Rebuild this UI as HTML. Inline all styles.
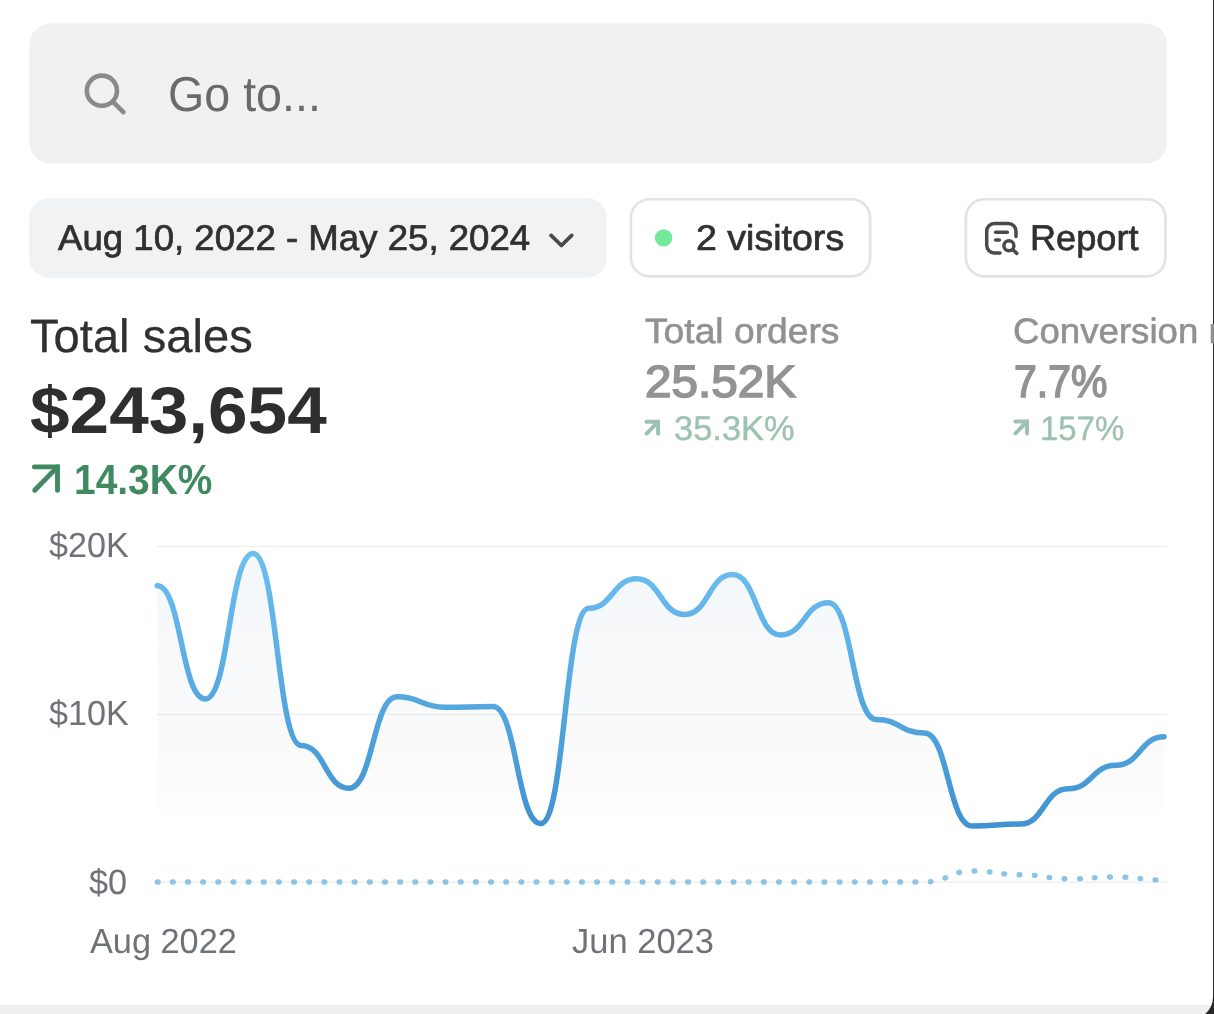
<!DOCTYPE html>
<html lang="en">
<head>
<meta charset="utf-8">
<title>Analytics</title>
<style>
*{box-sizing:border-box;margin:0;padding:0}
html,body{width:1214px;height:1014px;overflow:hidden;background:#fff}
body{position:relative;font-family:"Liberation Sans",sans-serif;-webkit-font-smoothing:antialiased}
.abs{position:absolute}
.t{position:absolute;white-space:nowrap;line-height:1;transform-origin:0 50%;text-rendering:geometricPrecision}
#bottomstrip{left:0;top:1004.6px;width:1214px;height:10px;background:#efefef}
svg{position:absolute;left:0;top:0;overflow:visible}
</style>
</head>
<body>
<div class="abs" id="bottomstrip"></div>

<svg id="chart" width="1214" height="1014" viewBox="0 0 1214 1014">
  <defs>
    <linearGradient id="lg" gradientUnits="userSpaceOnUse" x1="0" y1="546" x2="0" y2="882">
      <stop offset="0" stop-color="#6ec0f1"/>
      <stop offset="1" stop-color="#388aca"/>
    </linearGradient>
    <linearGradient id="ag" gradientUnits="userSpaceOnUse" x1="0" y1="546" x2="0" y2="882">
      <stop offset="0" stop-color="#75a7cd" stop-opacity="0.085"/>
      <stop offset="0.5" stop-color="#879baf" stop-opacity="0.05"/>
      <stop offset="0.64" stop-color="#7a7a7a" stop-opacity="0.032"/>
      <stop offset="0.76" stop-color="#666" stop-opacity="0.016"/>
      <stop offset="0.81" stop-color="#666" stop-opacity="0"/>
    </linearGradient>
  </defs>
  <!-- grid -->
  <g stroke="#ececed" stroke-width="1.1">
    <line x1="157" y1="546.5" x2="1167" y2="546.5"/>
    <line x1="157" y1="714.5" x2="1167" y2="714.5"/>
    <line x1="157" y1="882.1" x2="1167" y2="882.1"/>
  </g>
  <path d="M157.30,585.70 C181.27,585.70 181.27,698.90 205.24,698.90 C229.21,698.90 229.21,553.50 253.18,553.50 C277.15,553.50 277.15,745.50 301.11,745.50 C325.08,745.50 325.08,788.20 349.05,788.20 C373.02,788.20 373.02,696.80 396.99,696.80 C420.96,696.80 420.96,707.20 444.93,707.20 C468.90,707.20 468.90,706.60 492.87,706.60 C516.84,706.60 516.84,823.50 540.80,823.50 C564.77,823.50 564.77,608.30 588.74,608.30 C612.71,608.30 612.71,578.80 636.68,578.80 C660.65,578.80 660.65,614.50 684.62,614.50 C708.59,614.50 708.59,574.60 732.56,574.60 C756.53,574.60 756.53,634.90 780.50,634.90 C804.46,634.90 804.46,602.70 828.43,602.70 C852.40,602.70 852.40,719.50 876.37,719.50 C900.34,719.50 900.34,733.10 924.31,733.10 C948.28,733.10 948.28,826.00 972.25,826.00 C996.22,826.00 996.22,824.10 1020.19,824.10 C1044.15,824.10 1044.15,788.70 1068.12,788.70 C1092.09,788.70 1092.09,765.30 1116.06,765.30 C1140.03,765.30 1140.03,736.80 1164.00,736.80 L1164.00,882 L157.30,882 Z" fill="url(#ag)"/>
  <path d="M157.30,882.00 H924.31 C948.28,882.00 948.28,871.00 972.25,871.00 C996.22,871.00 996.22,874.70 1020.19,874.70 C1044.15,874.70 1044.15,878.80 1068.12,878.80 C1092.09,878.80 1092.09,877.00 1116.06,877.00 C1140.03,877.00 1140.03,880.00 1164.00,880.00" fill="none" stroke="#8cc4e6" stroke-width="5.4" stroke-linecap="round" stroke-dasharray="0.7 14.454"/>
  <path d="M157.30,585.70 C181.27,585.70 181.27,698.90 205.24,698.90 C229.21,698.90 229.21,553.50 253.18,553.50 C277.15,553.50 277.15,745.50 301.11,745.50 C325.08,745.50 325.08,788.20 349.05,788.20 C373.02,788.20 373.02,696.80 396.99,696.80 C420.96,696.80 420.96,707.20 444.93,707.20 C468.90,707.20 468.90,706.60 492.87,706.60 C516.84,706.60 516.84,823.50 540.80,823.50 C564.77,823.50 564.77,608.30 588.74,608.30 C612.71,608.30 612.71,578.80 636.68,578.80 C660.65,578.80 660.65,614.50 684.62,614.50 C708.59,614.50 708.59,574.60 732.56,574.60 C756.53,574.60 756.53,634.90 780.50,634.90 C804.46,634.90 804.46,602.70 828.43,602.70 C852.40,602.70 852.40,719.50 876.37,719.50 C900.34,719.50 900.34,733.10 924.31,733.10 C948.28,733.10 948.28,826.00 972.25,826.00 C996.22,826.00 996.22,824.10 1020.19,824.10 C1044.15,824.10 1044.15,788.70 1068.12,788.70 C1092.09,788.70 1092.09,765.30 1116.06,765.30 C1140.03,765.30 1140.03,736.80 1164.00,736.80" fill="none" stroke="url(#lg)" stroke-width="5.5" stroke-linecap="round" stroke-linejoin="round"/>

  <!-- search field + date pill -->
  <rect x="29.4" y="23.6" width="1137.7" height="139.8" rx="21" fill="#f1f1f1"/>
  <rect x="29.15" y="198.1" width="577.65" height="79.6" rx="20" fill="#f1f2f4"/>
  <!-- outlined pills -->
  <g fill="#fff" stroke="#e3e3e3" stroke-width="2.6">
    <rect x="630.9" y="199.2" width="239.2" height="77.2" rx="18.7"/>
    <rect x="965.9" y="199.2" width="199.6" height="77.2" rx="18.7"/>
  </g>
  <circle cx="663.6" cy="237.9" r="8.7" fill="#73e79b"/>
  <!-- search icon -->
  <g fill="none" stroke="#8a8a8a" stroke-width="4.6" stroke-linecap="round">
    <circle cx="101.9" cy="90.7" r="15.1"/>
    <line x1="112.8" y1="101.6" x2="123.4" y2="112.2"/>
  </g>
  <!-- chevron -->
  <path d="M551.1,235.4 L561.4,245.5 L571.7,235.4" fill="none" stroke="#4a4a4a" stroke-width="3.8" stroke-linecap="round" stroke-linejoin="round"/>
  <!-- report icon -->
  <g fill="none" stroke="#4a4a4a" stroke-width="3.5" stroke-linecap="round" stroke-linejoin="round">
    <path d="M1016,236.6 V231.2 A7.6,7.6 0 0 0 1008.4,223.6 H994.3 A7.6,7.6 0 0 0 986.7,231.2 V245.3 A7.6,7.6 0 0 0 994.3,252.9 H1000"/>
    <line x1="995.6" y1="232.2" x2="1007.3" y2="232.2"/>
    <line x1="995.6" y1="240" x2="999.4" y2="240"/>
    <circle cx="1008.9" cy="245.8" r="5"/>
    <line x1="1012.8" y1="249.8" x2="1016.8" y2="253.4"/>
  </g>
  <!-- big trend arrow -->
  <g fill="none" stroke="#3f8a60" stroke-width="4.9" stroke-linecap="round" stroke-linejoin="miter">
    <path d="M34.4,466.9 H57.5 V490.4"/>
    <path d="M57.5,466.9 L34.7,490.2"/>
  </g>
  <!-- small trend arrows -->
  <g fill="none" stroke="#9cc3af" stroke-width="4" stroke-linecap="round" stroke-linejoin="miter">
    <path d="M646.5,421.8 H658.1 V433.7"/>
    <path d="M658.1,421.8 L646.6,433.6"/>
    <path d="M1015.4,421.6 H1027 V433.5"/>
    <path d="M1027,421.6 L1015.5,433.4"/>
  </g>
  <!-- device edge -->
  <path d="M1213,0 H1214 V1014 H1205.2 A22.7,22.7 0 0 0 1213,996.9 Z" fill="#282828"/>
</svg>

<div class="t" id="t_goto" style="left:167.75px;top:71.06px;font-size:48.96px;color:#6a6a6a;transform:scaleX(0.9524);">Go to...</div>
<div class="t" id="t_date" style="left:57.96px;top:221.12px;font-size:35.84px;color:#303030;transform:scaleX(1.0218);-webkit-text-stroke:0.70px #303030;">Aug 10, 2022 - May 25, 2024</div>
<div class="t" id="t_vis" style="left:696.06px;top:221.13px;font-size:35.83px;color:#303030;transform:scaleX(1.0481);-webkit-text-stroke:0.70px #303030;">2 visitors</div>
<div class="t" id="t_rep" style="left:1030.47px;top:221.14px;font-size:35.82px;color:#303030;transform:scaleX(1.0096);-webkit-text-stroke:0.70px #303030;">Report</div>
<div class="t" id="t_tsales" style="left:29.68px;top:312.76px;font-size:46.72px;color:#303030;transform:scaleX(1.0091);-webkit-text-stroke:0.30px #303030;">Total sales</div>
<div class="t" id="t_big" style="left:30.15px;top:377.85px;font-size:65.97px;color:#2e2e2e;font-weight:700;transform:scaleX(1.0785);">$243,654</div>
<div class="t" id="t_pct1" style="left:73.77px;top:458.58px;font-size:42.04px;color:#3f8a60;font-weight:700;transform:scaleX(0.9254);">14.3K%</div>
<div class="t" id="t_tord" style="left:644.67px;top:313.79px;font-size:35.31px;color:#919191;transform:scaleX(1.0542);-webkit-text-stroke:0.60px #919191;">Total orders</div>
<div class="t" id="t_ord" style="left:644.68px;top:358.51px;font-size:45.21px;color:#939393;transform:scaleX(1.0540);-webkit-text-stroke:1.60px #939393;">25.52K</div>
<div class="t" id="t_pct2" style="left:674.02px;top:412.24px;font-size:34.25px;color:#9cc3af;transform:scaleX(1.0063);-webkit-text-stroke:0.40px #9cc3af;">35.3K%</div>
<div class="t" id="t_conv" style="left:1012.86px;top:313.76px;font-size:35.34px;color:#919191;transform:scaleX(1.0371);-webkit-text-stroke:0.60px #919191;">Conversion rate</div>
<div class="t" id="t_cv" style="left:1013.50px;top:358.53px;font-size:45.20px;color:#939393;transform:scaleX(0.9061);-webkit-text-stroke:1.60px #939393;">7.7%</div>
<div class="t" id="t_pct3" style="left:1040.26px;top:411.78px;font-size:34.05px;color:#9cc3af;transform:scaleX(0.9677);-webkit-text-stroke:0.40px #9cc3af;">157%</div>
<div class="t" id="t_y20" style="left:49.33px;top:529.17px;font-size:34.91px;color:#70727a;transform:scaleX(0.9785);">$20K</div>
<div class="t" id="t_y10" style="left:48.64px;top:697.24px;font-size:34.86px;color:#70727a;transform:scaleX(0.9791);">$10K</div>
<div class="t" id="t_y0" style="left:88.73px;top:865.26px;font-size:35.16px;color:#70727a;transform:scaleX(0.9735);">$0</div>
<div class="t" id="t_xaug" style="left:90.41px;top:924.96px;font-size:34.90px;color:#70727a;transform:scaleX(0.9829);">Aug 2022</div>
<div class="t" id="t_xjun" style="left:571.97px;top:924.96px;font-size:34.90px;color:#70727a;transform:scaleX(0.9887);">Jun 2023</div>
</body>
</html>
